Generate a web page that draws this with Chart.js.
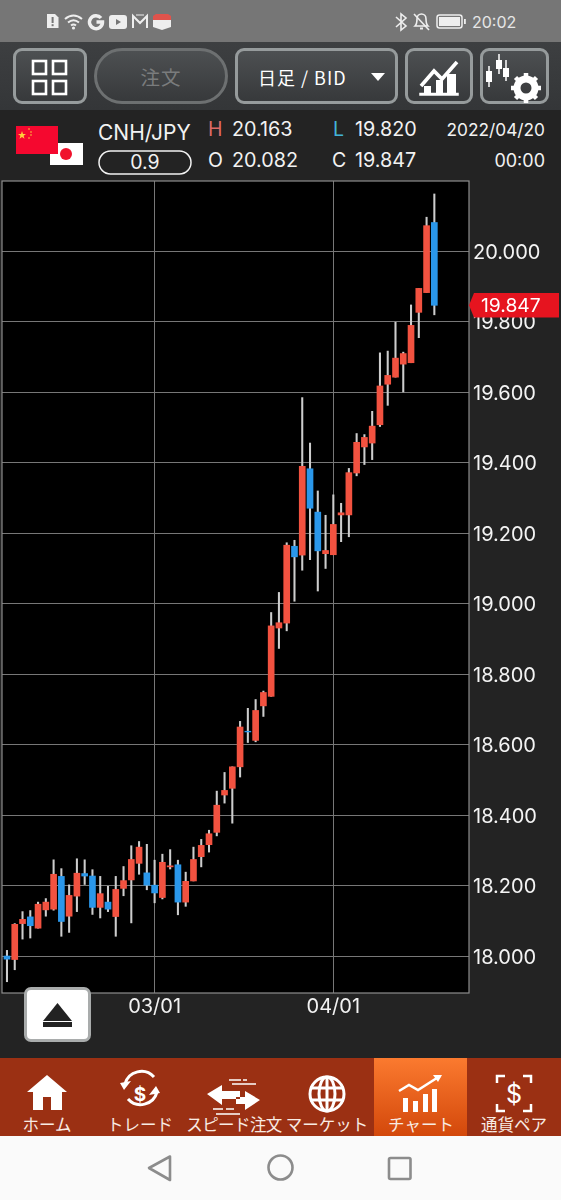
<!DOCTYPE html>
<html lang="ja"><head><meta charset="utf-8">
<script src="https://cdn.jsdelivr.net/npm/chart.js@4"></script>
<style>
html,body{margin:0;padding:0;background:#222;}
#page{position:relative;width:561px;height:1200px;overflow:hidden;background:#232323;font-family:Inter,"Noto Sans CJK JP",sans-serif;color:#f2f2f2;}
.a{position:absolute;}
.t{position:absolute;white-space:nowrap;line-height:1;transform:translateY(-50%);}
.c{transform:translate(-50%,-50%);}
.r{transform:translate(-100%,-50%);}
.btn{position:absolute;box-sizing:border-box;top:48px;height:56px;border:3px solid #969b9c;border-radius:9px;background:linear-gradient(#4d5052,#37393b);}
.jp{font-family:"Noto Sans CJK JP",sans-serif;}
.nl{position:absolute;top:1124px;transform:translate(-50%,-50%);font:400 16.5px "Noto Sans CJK JP",sans-serif;color:#f8ebe3;white-space:nowrap;line-height:1;}
svg{position:absolute;overflow:visible;}
canvas{position:absolute;left:0;top:178px;}
</style></head><body>
<div id="page">
  <!-- status bar -->
  <div class="a" style="left:0;top:0;width:561px;height:42px;background:#767676"></div>
  <svg style="left:0;top:0" width="561" height="42" fill="none">
    <path d="M47 14h8l3.5 3.5V28H47z" fill="#eee"/><rect x="51.6" y="17" width="2" height="6" fill="#767676"/><rect x="51.6" y="24.2" width="2" height="2" fill="#767676"/>
    <g stroke="#eee" stroke-width="2"><path d="M65 19q8.500-7 17 0"/><path d="M68 22.500q5.500-4.500 11 0"/><path d="M71 25.500q2.500-2 5 0"/></g><circle cx="73.500" cy="28" r="1.600" fill="#eee"/>
    <path d="M101 18a6.500 6.500 0 1 0 1.500 4h-6" stroke="#eee" stroke-width="3.500"/>
    <rect x="109" y="15" width="18" height="14" rx="3" fill="#eee"/><path d="M116 19l5 3-5 3z" fill="#767676"/>
    <path d="M133 28V16l7 7 7-7v12" stroke="#eee" stroke-width="2"/><path d="M136 15h8" stroke="#eee" stroke-width="1"/>
    <path d="M153 16l3-2h12l3 2v4h-18z" fill="#e0534c"/><path d="M153 20h18v7l-9 3-9-3z" fill="#eeeeee"/>
    <path d="M396 17l10 9-5 4V14l5 4-10 9" stroke="#eee" stroke-width="1.600"/>
    <path d="M415 26c2-2 2-5 2-7 0-3 2-5 4.500-5s4.500 2 4.500 5c0 2 0 5 2 7z" stroke="#eee" stroke-width="1.600"/><path d="M414 14l15 16" stroke="#eee" stroke-width="1.600"/><path d="M420 28.500h3" stroke="#eee" stroke-width="2"/>
    <rect x="437" y="15" width="25" height="13" rx="2.500" stroke="#eee" stroke-width="1.500"/><rect x="439" y="17" width="21" height="9" fill="#eee"/><rect x="464" y="19" width="1.800" height="5" fill="#eee"/>
  </svg>
  <span class="t" style="left:472px;top:22px;font-size:16px;color:#e6e6e6">20:02</span>

  <!-- toolbar -->
  <div class="a" style="left:0;top:42px;width:561px;height:68px;background:linear-gradient(#3d3f41,#343638)"></div>
  <div class="btn" style="left:13px;width:74px"></div>
  <div class="btn" style="left:94px;width:134px;border-radius:29px;border-color:#6d7071"></div>
  <div class="btn" style="left:235px;width:163px"></div>
  <div class="btn" style="left:405px;width:68px"></div>
  <div class="btn" style="left:480px;width:69px"></div>
  <svg style="left:0;top:0" width="561" height="120" fill="none">
    <g stroke="#fff" stroke-width="2.600"><rect x="33" y="61" width="13" height="13"/><rect x="53" y="61" width="13" height="13"/><rect x="33" y="81" width="13" height="13"/><rect x="53" y="81" width="13" height="13"/></g>
    <path d="M371 73h14l-7 8z" fill="#fff"/>
    <path d="M421 86l13-15 8 8 15-17" stroke="#fff" stroke-width="3.600"/><path d="M420 95h38v-1.500h-38z" fill="#fff" stroke="#fff" stroke-width="1.500"/><rect x="424" y="86" width="7" height="8" fill="#fff"/><rect x="436" y="80" width="7" height="14" fill="#fff"/><rect x="447" y="74" width="9" height="20" fill="#fff"/>
    <g stroke="#fff" stroke-width="1.500"><path d="M489 66v21M499 54v20M506 60v21"/></g>
    <g fill="#fff"><rect x="486" y="71" width="6" height="11"/><rect x="496" y="60" width="6" height="9"/><rect x="503" y="68" width="6" height="9"/></g>
    <circle cx="526" cy="88" r="9" stroke="#fff" stroke-width="7"/>
    <g stroke="#fff" stroke-width="4.500"><path d="M526 73v6M526 97v6M511 88h6M535 88h6M515.500 77.500l4 4M532.500 94.500l4 4M515.500 98.500l4-4M532.500 81.500l4-4"/></g>
  </svg>
  <span class="t c jp" style="left:161px;top:77px;font-size:19.500px;color:#7a7c7d;letter-spacing:1px">注文</span>
  <span class="t jp" style="left:258px;top:77px;font-size:18px;color:#fff;letter-spacing:1px">日足 / BID</span>

  <!-- info row -->
  <svg style="left:0;top:0" width="561" height="180" fill="none">
    <rect x="16" y="126" width="42" height="28" fill="#f5082f"/>
    <path d="M22 131l1 3h3l-2.400 1.800.9 3-2.500-1.900-2.500 1.900.9-3L18 134h3z" fill="#ffd23c"/>
    <g fill="#ffd23c"><circle cx="29" cy="129" r=".8"/><circle cx="31" cy="132" r=".8"/><circle cx="31" cy="135" r=".8"/><circle cx="29" cy="138" r=".8"/></g>
    <rect x="50" y="143" width="33" height="22" fill="#fff"/><rect x="50" y="143" width="8" height="11" fill="#f5082f"/><circle cx="66" cy="154" r="6" fill="#f0122c"/>
    <rect x="99" y="151" width="92" height="23" rx="11.500" stroke="#f2f2f2" stroke-width="1.500"/>
  </svg>
  <span class="t" style="left:98px;top:132px;font-size:21px">CNH/JPY</span>
  <span class="t c" style="left:145px;top:163px;font-size:19.500px">0.9</span>
  <span class="t" style="left:208px;top:130px;font-size:19.500px;color:#dd6a66">H</span>
  <span class="t" style="left:232px;top:130px;font-size:19.800px">20.163</span>
  <span class="t" style="left:333px;top:130px;font-size:19.500px;color:#43b4d8">L</span>
  <span class="t" style="left:355px;top:130px;font-size:19.800px">19.820</span>
  <span class="t r" style="left:545px;top:130px;font-size:17.300px">2022/04/20</span>
  <span class="t" style="left:208px;top:161px;font-size:19.500px">O</span>
  <span class="t" style="left:232px;top:161px;font-size:19.800px">20.082</span>
  <span class="t" style="left:332px;top:161px;font-size:19.500px">C</span>
  <span class="t" style="left:355px;top:161px;font-size:19.800px">19.847</span>
  <span class="t r" style="left:545px;top:161px;font-size:18px">00:00</span>

  <canvas id="c" width="561" height="860"></canvas>

  <!-- eject button -->
  <div class="a" style="box-sizing:border-box;left:24px;top:987px;width:67px;height:55px;background:#fff;border:3px solid #a9acac;border-radius:7px"></div>
  <svg style="left:0;top:0" width="561" height="1200">
    <path d="M57.500 1003l14.500 18H43z" fill="#222"/><rect x="43" y="1022" width="29" height="5" fill="#222"/>
  </svg>

  <!-- bottom nav -->
  <div class="a" style="left:0;top:1058px;width:561px;height:78px;background:#9b3013"></div>
  <div class="a" style="left:374px;top:1058px;width:93px;height:78px;background:linear-gradient(#fb7a2f,#d3480b)"></div>
  <svg style="left:0;top:0" width="561" height="1200" fill="none">
    <path d="M47 1075l-20 17h6v18h10v-13h8v13h11v-18h5z" fill="#fff"/>
    <g stroke="#fff" stroke-width="3"><path d="M125 1084a17 17 0 0 1 29-7"/><path d="M157 1092a17 17 0 0 1-29 7"/></g>
    <path d="M120 1083l11 -2-7 9zM160 1093l-11 2 7-9z" fill="#fff"/>
    <g stroke="#fff" stroke-width="1.500"><path d="M229 1080h12M243 1080h4M232 1084h24M213 1109h10M226 1109h8M216 1114h24" /></g>
    <path d="M207 1094l15-9v6h18v8h-18v6zM260 1100l-15-9v6h-9v7h9v6z" fill="#fff"/>
    <g stroke="#fff" stroke-width="3"><circle cx="327" cy="1094" r="17"/><ellipse cx="327" cy="1094" rx="8" ry="17"/><path d="M327 1077v34M310 1088h34M310 1100h34"/></g>
    <g stroke="#fff" stroke-width="2.500"><path d="M399 1091l10-6 9 5 22-14"/></g><path d="M442 1075l-9 0 5 7z" fill="#fff"/>
    <g fill="#fff"><rect x="403" y="1098" width="5" height="14"/><rect x="413" y="1101" width="5" height="11"/><rect x="423" y="1094" width="5" height="18"/><rect x="432" y="1089" width="5" height="23"/></g>
    <g stroke="#fff" stroke-width="2.500"><path d="M497 1083v-7h8M523 1076h8v7M497 1104v7h8M531 1104v7h-8"/></g>
  </svg>
  <span class="t c" style="left:140px;top:1094px;font-size:19px;font-weight:700;color:#fff;">$</span>
  <span class="t c" style="left:514px;top:1094px;font-size:25px;color:#fff;">$</span>
  <span class="nl" style="left:47px">ホーム</span>
  <span class="nl" style="left:140px">トレード</span>
  <span class="nl" style="left:234px;letter-spacing:-.6px">スピード注文</span>
  <span class="nl" style="left:327px">マーケット</span>
  <span class="nl" style="left:421px">チャート</span>
  <span class="nl" style="left:514px">通貨ペア</span>

  <!-- android nav -->
  <div class="a" style="left:0;top:1136px;width:561px;height:64px;background:#fafafa"></div>
  <svg style="left:0;top:0" width="561" height="1200" fill="none" stroke="#8c8c8c" stroke-width="2.600" stroke-linejoin="round">
    <path d="M170 1168.500v-12l-21 11.500 21 12z"/><circle cx="280.500" cy="1167.500" r="12"/><rect x="389" y="1158" width="21.500" height="21" rx="1.500"/>
  </svg>
</div>
<script>
const dates=['02/02','02/03','02/04','02/07','02/08','02/09','02/10','02/11','02/14','02/15','02/16','02/17','02/18','02/21','02/22','02/23','02/24','02/25','02/28','03/01','03/02','03/03','03/04','03/07','03/08','03/09','03/10','03/11','03/14','03/15','03/16','03/17','03/18','03/21','03/22','03/23','03/24','03/25','03/28','03/29','03/30','03/31','04/01','04/04','04/05','04/06','04/07','04/08','04/11','04/12','04/13','04/14','04/15','04/18','04/19','04/20'];
const opens=[18.000,17.990,18.092,18.111,18.079,18.131,18.133,18.226,18.113,18.170,18.234,18.227,18.138,18.153,18.112,18.192,18.216,18.263,18.236,18.201,18.166,18.253,18.259,18.153,18.213,18.282,18.316,18.351,18.457,18.476,18.537,18.638,18.612,18.710,18.737,18.931,18.945,19.163,19.138,19.383,19.260,19.142,19.139,19.252,19.252,19.371,19.445,19.456,19.508,19.623,19.643,19.680,19.684,19.827,19.883,20.082];
const highs=[18.016,18.092,18.126,18.129,18.153,18.163,18.273,18.248,18.202,18.276,18.273,18.245,18.226,18.198,18.226,18.254,18.313,18.325,18.317,18.272,18.289,18.302,18.272,18.238,18.309,18.331,18.357,18.468,18.521,18.537,18.666,18.703,18.728,18.752,18.975,19.032,19.173,19.180,19.585,19.456,19.320,19.251,19.309,19.285,19.384,19.483,19.480,19.546,19.712,19.717,19.799,19.714,19.848,19.895,20.097,20.163];
const lows=[17.927,17.961,18.048,18.051,18.079,18.113,18.130,18.056,18.067,18.126,18.203,18.118,18.108,18.126,18.056,18.171,18.094,18.232,18.188,18.151,18.162,18.247,18.117,18.141,18.213,18.253,18.295,18.341,18.434,18.377,18.508,18.606,18.608,18.680,18.737,18.873,18.923,19.007,19.095,19.125,19.036,19.100,19.139,19.176,19.190,19.363,19.395,19.409,19.503,19.563,19.643,19.601,19.684,19.755,19.883,19.820];
const closes=[17.991,18.090,18.104,18.086,18.147,18.153,18.232,18.098,18.172,18.235,18.227,18.138,18.177,18.133,18.189,18.214,18.274,18.309,18.201,18.179,18.266,18.256,18.153,18.212,18.274,18.314,18.347,18.428,18.470,18.537,18.650,18.636,18.697,18.748,18.937,18.946,19.166,19.133,19.390,19.271,19.150,19.151,19.225,19.258,19.372,19.458,19.472,19.504,19.618,19.648,19.697,19.710,19.790,19.895,20.073,19.847];
const priceTicks=[18.0,18.2,18.4,18.6,18.8,19.0,19.2,19.4,19.6,19.8,20.0];
const dateTicks=['03/01','04/01'];

const UP='#f25240',DOWN='#2a97ea',WICK='#cdcdcd',GRID='#777',LINE='#8d8d8d';
const frame={id:'frame',
  beforeDraw(ch){const a=ch.chartArea,x=ch.ctx;x.save();x.fillStyle='#000';x.fillRect(a.left,a.top,a.width,a.height);x.restore();},
  afterDraw(ch){const a=ch.chartArea,x=ch.ctx;x.save();
    x.strokeStyle=LINE;x.lineWidth=1.2;x.strokeRect(a.left,a.top,a.width,a.height);
    const v=closes[closes.length-1],py=ch.scales.y.getPixelForValue(v),l=a.right,r=559,h=12.2;
    x.fillStyle='#e6141f';x.beginPath();x.moveTo(l,py);x.lineTo(l+5,py-h);x.lineTo(r,py-h);x.lineTo(r,py+h);x.lineTo(l+5,py+h);x.closePath();x.fill();
    x.fillStyle='#fff';x.font='19.3px Inter';x.textAlign='left';x.textBaseline='middle';x.fillText(v.toFixed(3),481,py+1);
    x.restore();}
};
new Chart(document.getElementById('c'),{
  type:'bar',
  data:{datasets:[
    {label:'body',order:1,grouped:false,barThickness:6,
     data:dates.map((d,i)=>({x:i,y:[opens[i],closes[i]]})),
     backgroundColor:dates.map((d,i)=>closes[i]>=opens[i]?UP:DOWN)},
    {label:'wick',order:2,grouped:false,barThickness:1.4,
     data:dates.map((d,i)=>({x:i,y:[lows[i],highs[i]]})),
     backgroundColor:WICK}
  ]},
  options:{responsive:false,animation:false,devicePixelRatio:1,
    layout:{padding:{left:2,top:3,right:0,bottom:0}},
    plugins:{legend:{display:false},tooltip:{enabled:false}},
    scales:{
      x:{type:'linear',min:-0.64,max:59.46,offset:false,
        afterBuildTicks(s){s.ticks=dateTicks.map(d=>({value:dates.indexOf(d)}));},
        afterFit(s){s.height=45;s.paddingLeft=0;s.paddingRight=0;},
        grid:{color:GRID,lineWidth:1,drawTicks:false,offset:false},border:{display:false},
        ticks:{autoSkip:false,maxRotation:0,padding:2,color:'#f2f2f2',font:{family:'Inter',size:20},callback:v=>dates[v]}},
      y:{type:'linear',position:'right',min:17.895,max:20.1998,
        afterBuildTicks(s){s.ticks=priceTicks.map(v=>({value:v}));},
        afterFit(s){s.width=92;s.paddingTop=0;s.paddingBottom=0;},
        grid:{color:GRID,lineWidth:1,drawTicks:false},border:{display:false},
        ticks:{autoSkip:false,padding:4,labelOffset:1.5,color:'#f4f4f4',font:{family:'Inter',size:20},callback:v=>v.toFixed(3)}}
    }
  },
  plugins:[frame]
});
</script>
</body></html>
